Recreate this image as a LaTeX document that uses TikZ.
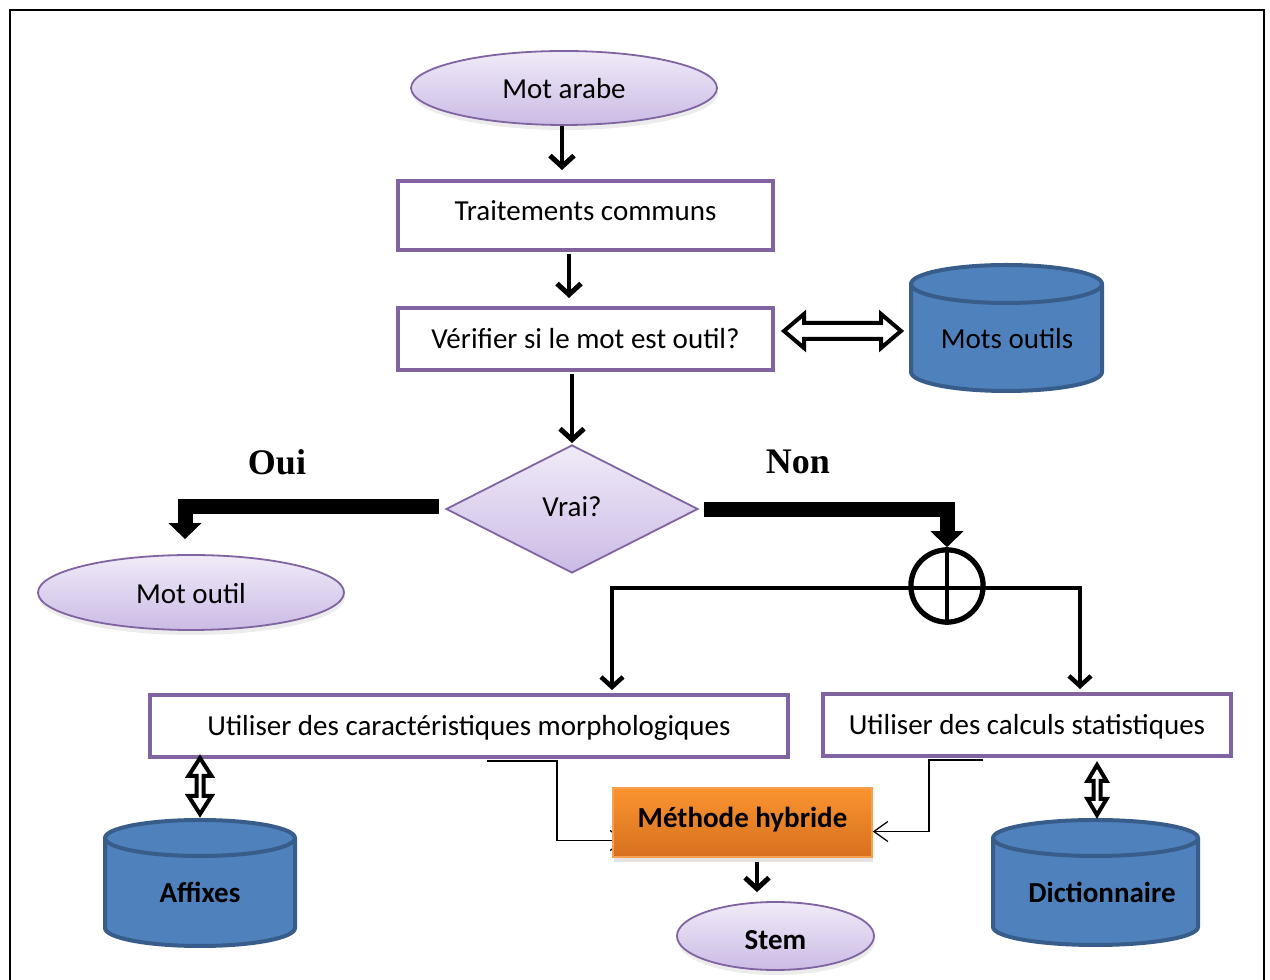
\documentclass[tikz,border=0pt]{standalone}
\usepackage{fontspec}
\setmainfont{Carlito}
\newfontfamily\labelfont{Liberation Serif}
\usetikzlibrary{arrows.meta,shapes.geometric,shadows,backgrounds,calc}

\definecolor{boxline}{RGB}{128,100,162}
\definecolor{lavtop}{RGB}{240,235,248}
\definecolor{lavbot}{RGB}{203,187,229}
\definecolor{dbfill}{RGB}{79,129,189}
\definecolor{dbline}{RGB}{56,93,138}
\definecolor{orgtop}{RGB}{250,148,48}
\definecolor{orgbot}{RGB}{214,112,30}
\definecolor{orgline}{RGB}{247,160,80}

% cylinder: left x, right x, top y, bottom y, end radius
\newcommand{\dbcylinder}[5]{%
  \filldraw[dbbody] (#1,#3-#5) -- (#1,#4+#5)
    arc[start angle=180,end angle=360,x radius={(#2-#1)/2},y radius=#5]
    -- (#2,#3-#5)
    arc[start angle=0,end angle=180,x radius={(#2-#1)/2},y radius=#5] -- cycle;
  \draw[dbbody] (#1,#3-#5)
    arc[start angle=180,end angle=360,x radius={(#2-#1)/2},y radius=#5];}

% hollow two-headed horizontal arrow: x1, x2, y
\newcommand{\hollowH}[3]{%
  \draw[hollow] (#1,#3) -- (#1+20,#3+17) -- (#1+20,#3+8) -- (#2-20,#3+8)
    -- (#2-20,#3+17) -- (#2,#3) -- (#2-20,#3-17) -- (#2-20,#3-8)
    -- (#1+20,#3-8) -- (#1+20,#3-17) -- cycle;}

% hollow two-headed vertical arrow: x, top y, bottom y, half head, head length
\newcommand{\hollowV}[5]{%
  \draw[hollow] (#1,#2) -- (#1+#4,#2-#5) -- (#1+3.5,#2-#5) -- (#1+3.5,#3+#5)
    -- (#1+#4,#3+#5) -- (#1,#3) -- (#1-#4,#3+#5) -- (#1-3.5,#3+#5)
    -- (#1-3.5,#2-#5) -- (#1-#4,#2-#5) -- cycle;}

\begin{document}
\begin{tikzpicture}[x=1pt,y=1pt,
  every node/.style={font=\fontsize{29}{34}\selectfont, inner sep=0pt},
  procbox/.style={rectangle, draw=boxline, line width=4pt, fill=white},
  oval/.style={ellipse, draw=boxline, line width=1.8pt, top color=lavtop,
    bottom color=lavbot,
    drop shadow={opacity=0.15, shadow xshift=1pt, shadow yshift=-5pt}},
  decision/.style={diamond, draw=boxline, line width=1.8pt, top color=lavtop,
    bottom color=lavbot, aspect=1.97},
  hybrid/.style={rectangle, draw=orgline, line width=1.5pt, top color=orgtop,
    bottom color=orgbot, font=\fontsize{29}{34}\selectfont\bfseries,
    drop shadow={opacity=0.22, shadow xshift=1pt, shadow yshift=-5pt}},
  dbbody/.style={fill=dbfill, draw=dbline, line width=4pt},
  dbtext/.style={font=\fontsize{29}{34}\selectfont},
  hollow/.style={draw=black, line width=4pt, fill=white, line join=miter},
  flow/.style={line width=4pt,
    -{Straight Barb[length=11pt,width=24pt,line width=5pt]}},
  branch/.style={line width=3.5pt,
    -{Straight Barb[length=10pt,width=22pt,line width=4.5pt]}},
  block/.style={line width=15pt, line join=miter,
    -{Triangle[length=16pt,width=32pt]}},
  thinlink/.style={line width=1.3pt, -{Straight Barb[length=14pt,width=20pt]}},
  answer/.style={font=\fontsize{36}{40}\selectfont\labelfont\bfseries}
]
\useasboundingbox (0,0) rectangle (1270,980);

% outer frame
\draw[line width=2pt] (10,-10) -- (10,970) -- (1264,970) -- (1264,-10);

% process chain
\node[oval, minimum width=306, minimum height=74, text height=22pt, text depth=0pt] (motarabe) at (564,892) {Mot arabe};
\node[procbox, minimum width=375, minimum height=69] (trait) at (585.5,764.5) {\raisebox{10pt}{Traitements communs}};
\node[procbox, minimum width=375, minimum height=62] (verif) at (585.5,641) {Vérifier si le mot est outil?};
\node[decision, minimum width=252, minimum height=128] (vrai) at (572,471) {\raisebox{4pt}{Vrai?}};
\node[oval, minimum width=306, minimum height=75, text height=22pt, text depth=0pt] (motoutil) at (191,387.5) {Mot outil};

\node[answer] (oui) at (277,518) {Oui};
\node[answer] (non) at (798,518) {Non};

% databases
\dbcylinder{911}{1102}{715}{589}{19}
\node[dbtext] (motsoutils) at (1007,641) {Mots outils};
\dbcylinder{105}{295}{160}{34}{18}
\node[dbtext, font=\fontsize{29}{34}\selectfont\bfseries] (affixes) at (200,88) {Affixes};
\dbcylinder{993}{1198}{160}{35}{18}
\node[dbtext, font=\fontsize{29}{34}\selectfont\bfseries] (dico) at (1102,88) {Dictionnaire};

% junction
\node[circle, draw, line width=3.5pt, minimum size=74, fill=white] (xor) at (947,394) {};

\node[procbox, minimum width=638, minimum height=62, text height=26pt, text depth=6pt] (morph) at (469,254) {Utiliser des caractéristiques morphologiques};
\node[procbox, minimum width=408, minimum height=62, text height=26pt, text depth=6pt] (stat) at (1027,255) {Utiliser des calculs statistiques};

\node[hybrid, minimum width=259, minimum height=69, text height=21pt, text depth=10pt] (meth) at (742.5,157.5) {Méthode hybride};
\node[oval, minimum width=197, minimum height=68, text height=27pt, text depth=0pt, font=\fontsize{29}{34}\selectfont\bfseries] (stem) at (775.5,44) {Stem};

% main flow
\draw[flow, shorten >=9pt] ([xshift=-2pt]motarabe.south) -- ([xshift=-2pt]motarabe.south |- trait.north);
\draw[flow, shorten <=2pt, shorten >=8pt] ([xshift=-16.5pt]trait.south) -- ([xshift=-16.5pt]verif.south |- verif.north);
\draw[flow, shorten <=2pt, shorten >=1pt] (verif.south -| vrai.north) -- (vrai.north);

% yes / no branches
\draw[block] ([xshift=-6pt,yshift=2pt]vrai.west) -| ($(motoutil.north)+(-6,15)$);
\draw[block] ([xshift=5pt,yshift=-1pt]vrai.east) -| (xor.north);

% junction branches
\draw[line width=3.5pt] (xor.north) -- (xor.south);
\draw[branch] ([yshift=-2pt]xor.center) -| ([xshift=143pt,yshift=3pt]morph.north);
\draw[branch] ([yshift=-2pt]xor.center) -| ([xshift=53pt,yshift=3pt]stat.north);
\draw[line width=3.5pt] (xor) circle[radius=35.25];

% database links
\hollowH{784}{901}{649}
\hollowV{200}{222}{166}{11.5}{18}
\hollowV{1097}{215}{165}{9.5}{16}

% links into the hybrid method
\begin{scope}[on background layer]
\draw[thinlink] ([xshift=18pt,yshift=-2pt]morph.south) -- ([xshift=88pt,yshift=-2pt]morph.south) |- ([xshift=13pt,yshift=-18pt]meth.west);
\end{scope}
\draw[thinlink] ([xshift=-44pt,yshift=-2pt]stat.south) -- ([xshift=-98pt,yshift=-2pt]stat.south) |- ([yshift=-9pt]meth.east);

\draw[flow, shorten >=9pt] ([xshift=14.5pt,yshift=-4pt]meth.south) -- ([xshift=14.5pt]meth.south |- stem.north);
\end{tikzpicture}
\end{document}
